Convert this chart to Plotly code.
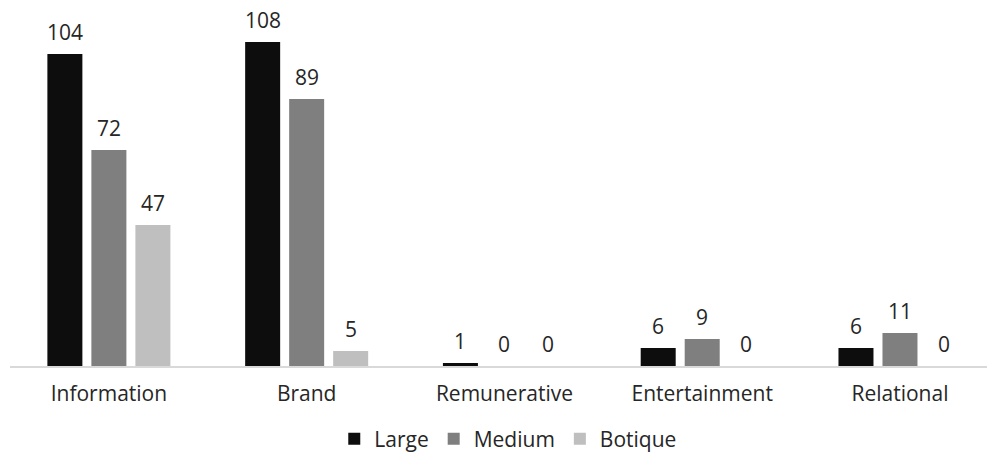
import plotly.graph_objects as go

categories = ["Information", "Brand", "Remunerative", "Entertainment", "Relational"]
large = [104, 108, 1, 6, 6]
medium = [72, 89, 0, 9, 11]
botique = [47, 5, 0, 0, 0]

series = [
    ("Large", large, "#0d0d0d"),
    ("Medium", medium, "#7f7f7f"),
    ("Botique", botique, "#bfbfbf"),
]

FONT = "Open Sans"
TEXT = "#262626"
BARGAP = 0.3325
GROUPGAP = 0.2045

fig = go.Figure()
for name, vals, color in series:
    fig.add_trace(go.Bar(
        name=name, x=categories, y=vals,
        marker=dict(color=color, line=dict(width=0)),
    ))

# value labels above each bar, placed at the bar's group slot
slot = (1 - BARGAP) / len(series)
annotations = []
for i, (name, vals, color) in enumerate(series):
    offset = (i - (len(series) - 1) / 2) * slot
    for j, v in enumerate(vals):
        annotations.append(dict(
            x=j + offset, y=v, xref="x", yref="y",
            text=str(v), showarrow=False,
            yanchor="bottom", yshift=6,
            font=dict(family=FONT, size=21, color=TEXT),
        ))

fig.update_layout(
    width=987, height=454,
    margin=dict(l=10, r=0, t=0, b=88, autoexpand=False),
    paper_bgcolor="white", plot_bgcolor="white",
    barmode="group", bargap=BARGAP, bargroupgap=GROUPGAP,
    annotations=annotations,
    showlegend=True,
    legend=dict(
        orientation="h", x=0.51, xanchor="center", y=-0.2, yanchor="middle",
        font=dict(family=FONT, size=21, color=TEXT),
        itemwidth=30, traceorder="normal",
    ),
    xaxis=dict(
        type="category", range=[-0.5, 4.44],
        showline=True, linecolor="#d9d9d9", linewidth=1.5,
        ticks="", showgrid=False, automargin=False,
        ticklabelstandoff=8,
        tickfont=dict(family=FONT, size=21, color=TEXT),
    ),
    yaxis=dict(
        range=[0, 122], visible=False, showgrid=False, zeroline=False,
    ),
)

fig.write_html("out.html")
